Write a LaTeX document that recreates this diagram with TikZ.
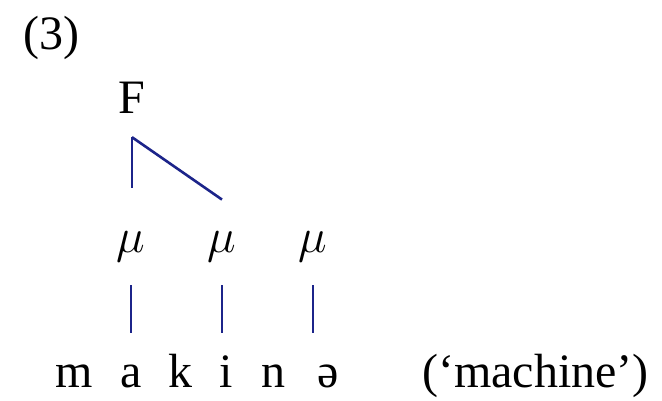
\documentclass[tikz,border=0pt]{standalone}
\usepackage{fontspec}
\setmainfont{Liberation Serif}
\usepackage{tikz}
\usetikzlibrary{positioning,calc}
\definecolor{linkblue}{RGB}{28,36,138}

\begin{document}
\begin{tikzpicture}[x=1pt, y=-1pt,
    font=\fontsize{48}{58}\selectfont,
    link/.style={draw=linkblue, line width=2.6pt},
    mora/.style={inner sep=0pt, anchor=base, font=\fontsize{24.88}{30}\selectfont,
      scale=1.95, text height=11.3pt, text depth=5.6pt},
    seg/.style={inner sep=0pt, anchor=base, text height=22pt, text depth=0pt}]
    \useasboundingbox (0,0) rectangle (662,400);
    % Example number
    \node[inner sep=0pt, anchor=base west] (num) at (23,49) {(3)};
    % Foot
    \node[inner sep=0pt, anchor=base] (F) at (132,113) {F};
    \coordinate (Fv) at ([yshift=-24pt]F.south);
    % Moras
    \node[mora] (mu1) at (131,252) {$\mu$};
    \node[mora] (mu2) at (222,252) {$\mu$};
    \node[mora] (mu3) at (313,252) {$\mu$};
    % Segments
    \node[seg] (m) at (74,387) {m};
    \node[seg] (a) at (131,387) {a};
    \node[seg] (k) at (180,387) {k};
    \node[seg] (i) at (226,387) {i};
    \node[seg] (n) at (273,387) {n};
    \node[seg] (schwa) at (328,387) {ə};
    \node[inner sep=0pt, anchor=base west] (gloss) at (422,387) {(‘machine’)};
    % Foot to moras
    \draw[link] (Fv) -- ([yshift=42pt]Fv |- mu1.north);
    \draw[link] (Fv) -- ([yshift=30pt]mu2.north);
    % Moras to segments
    \draw[link, shorten <=22pt, shorten >=32pt] (mu1.south) -- (mu1.south |- a.north);
    \draw[link, shorten <=22pt, shorten >=32pt] (mu2.south) -- (mu2.south |- i.north);
    \draw[link, shorten <=22pt, shorten >=32pt] (mu3.south) -- (mu3.south |- schwa.north);
  \end{tikzpicture}
\end{document}
